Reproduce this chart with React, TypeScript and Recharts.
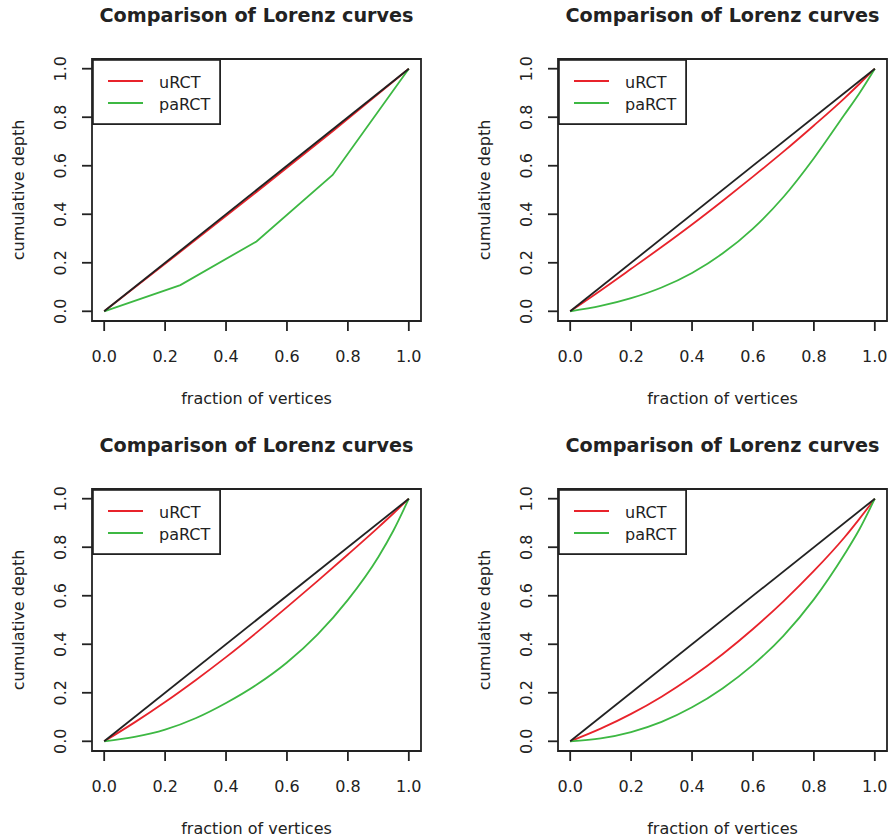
import { LineChart, Line, XAxis, YAxis, Legend, ReferenceArea } from 'recharts';

// fraction of vertices (x) for each panel
const xCoarse = [0, 0.25, 0.5, 0.75, 1];
const xFine = [0, 0.1, 0.2, 0.3, 0.4, 0.5, 0.6, 0.7, 0.8, 0.9, 0.95, 1];
const xEquality = [0, 1];

// cumulative depth
const urct1 = [0, 0.245, 0.492, 0.742, 1];
const parct1 = [0, 0.108, 0.288, 0.562, 1];

const urct2 = [0, 0.086, 0.175, 0.265, 0.358, 0.455, 0.555, 0.658, 0.766, 0.878, 0.938, 1];
const parct2 = [0, 0.022, 0.054, 0.098, 0.158, 0.238, 0.341, 0.471, 0.631, 0.81, 0.9, 1];

const urct3 = [0, 0.078, 0.162, 0.252, 0.347, 0.448, 0.553, 0.66, 0.77, 0.882, 0.94, 1];
const parct3 = [0, 0.018, 0.048, 0.095, 0.158, 0.233, 0.325, 0.44, 0.583, 0.76, 0.87, 1];

const urct4 = [0, 0.052, 0.113, 0.184, 0.266, 0.359, 0.463, 0.577, 0.702, 0.84, 0.918, 1];
const parct4 = [0, 0.012, 0.038, 0.08, 0.14, 0.218, 0.315, 0.435, 0.585, 0.77, 0.875, 1];

const equality = [0, 1];
const ticks = [0, 0.2, 0.4, 0.6, 0.8, 1];
const legendNames = ['uRCT', 'paRCT'];

const FONT = '"DejaVu Sans", sans-serif';
const INK = '#222';
const RED = '#e8232b';
const GREEN = '#3db843';

const toPoints = (xs: number[], ys: number[]) => xs.map((x, i) => ({ x, y: ys[i] }));

const XTick = ({ x, y, payload }: any) => (
  <text x={x} y={y + 31} textAnchor="middle" fontFamily={FONT} fontSize={16} fill={INK}>
    {Number(payload.value).toFixed(1)}
  </text>
);

const YTick = ({ x, y, payload }: any) => (
  <text x={x - 16} y={y} textAnchor="middle" transform={`rotate(-90, ${x - 16}, ${y})`}
    fontFamily={FONT} fontSize={16} fill={INK}>
    {Number(payload.value).toFixed(1)}
  </text>
);

const xLabel = ({ viewBox }: any) => (
  <text x={viewBox.x + viewBox.width / 2} y={viewBox.y + 83} textAnchor="middle"
    fontFamily={FONT} fontSize={16} fill={INK}>
    fraction of vertices
  </text>
);

const yLabel = ({ viewBox }: any) => {
  const cy = viewBox.y + viewBox.height / 2;
  return (
    <text x={23.5} y={cy} textAnchor="middle" transform={`rotate(-90, 23.5, ${cy})`}
      fontFamily={FONT} fontSize={16} fill={INK}>
      cumulative depth
    </text>
  );
};

const LegendBox = ({ payload }: any) => {
  const items = legendNames
    .map((n) => (payload || []).find((p: any) => p.value === n))
    .filter(Boolean);
  return (
    <div style={{ position: 'relative', width: 129, height: 66, background: '#fff' }}>
      <svg width={129} height={66} style={{ position: 'absolute', left: 0, top: 0 }}>
        <rect x={0.9} y={0.9} width={127.2} height={64.2} fill="none" stroke={INK} strokeWidth={1.8} />
        {items.map((p: any, i: number) => (
          <g key={p.value}>
            <line x1={16} x2={51} y1={22 + i * 22} y2={22 + i * 22} stroke={p.color} strokeWidth={1.8} />
            <text x={67} y={28.5 + i * 22} fontFamily={FONT} fontSize={16} fill={INK}>{p.value}</text>
          </g>
        ))}
      </svg>
    </div>
  );
};

function Panel({ left, top, xs, urct, parct, curve }: any) {
  return (
    <div style={{ position: 'absolute', left, top, width: 466, height: 430 }}>
      <div style={{
        position: 'absolute', left: 92, top: 6, width: 329, textAlign: 'center',
        fontFamily: FONT, fontWeight: 'bold', fontSize: 19.2, lineHeight: '19.2px', color: INK,
      }}>
        Comparison of Lorenz curves
      </div>
      <LineChart width={466} height={430} margin={{ top: 59, right: 45, bottom: 0, left: 0 }}>
        <XAxis type="number" dataKey="x" domain={[-0.04, 1.04]} allowDataOverflow ticks={ticks}
          height={109} tickSize={10} tickMargin={0} axisLine={false}
          tickLine={{ stroke: INK, strokeWidth: 1.8 }} tick={<XTick />} label={xLabel} />
        <YAxis type="number" dataKey="y" domain={[-0.04, 1.04]} allowDataOverflow ticks={ticks}
          width={92} tickSize={10} tickMargin={0} axisLine={false}
          tickLine={{ stroke: INK, strokeWidth: 1.8 }} tick={<YTick />} label={yLabel} />
        <ReferenceArea x1={-0.04} x2={1.04} y1={-0.04} y2={1.04} fill="none" fillOpacity={0}
          stroke={INK} strokeWidth={1.8} />
        <Legend verticalAlign="middle" align="center" layout="horizontal" content={<LegendBox />}
          wrapperStyle={{ left: 92, top: 59, width: 129, height: 66 }} />
        <Line data={toPoints(xs, urct)} dataKey="y" name="uRCT" type={curve} stroke={RED}
          strokeWidth={1.8} dot={false} isAnimationActive={false} />
        <Line data={toPoints(xs, parct)} dataKey="y" name="paRCT" type={curve} stroke={GREEN}
          strokeWidth={1.8} dot={false} isAnimationActive={false} />
        <Line data={toPoints(xEquality, equality)} dataKey="y" name="equality" type="linear" stroke={INK}
          strokeWidth={1.8} dot={false} legendType="none" isAnimationActive={false} />
      </LineChart>
    </div>
  );
}

export default function App() {
  return (
    <div style={{ position: 'absolute', left: 0, top: 0, width: 890, height: 840, overflow: 'hidden', background: '#fff' }}>
      <Panel left={0} top={0} xs={xCoarse} urct={urct1} parct={parct1} curve="linear" />
      <Panel left={466} top={0} xs={xFine} urct={urct2} parct={parct2} curve="monotone" />
      <Panel left={0} top={430} xs={xFine} urct={urct3} parct={parct3} curve="monotone" />
      <Panel left={466} top={430} xs={xFine} urct={urct4} parct={parct4} curve="monotone" />
    </div>
  );
}
